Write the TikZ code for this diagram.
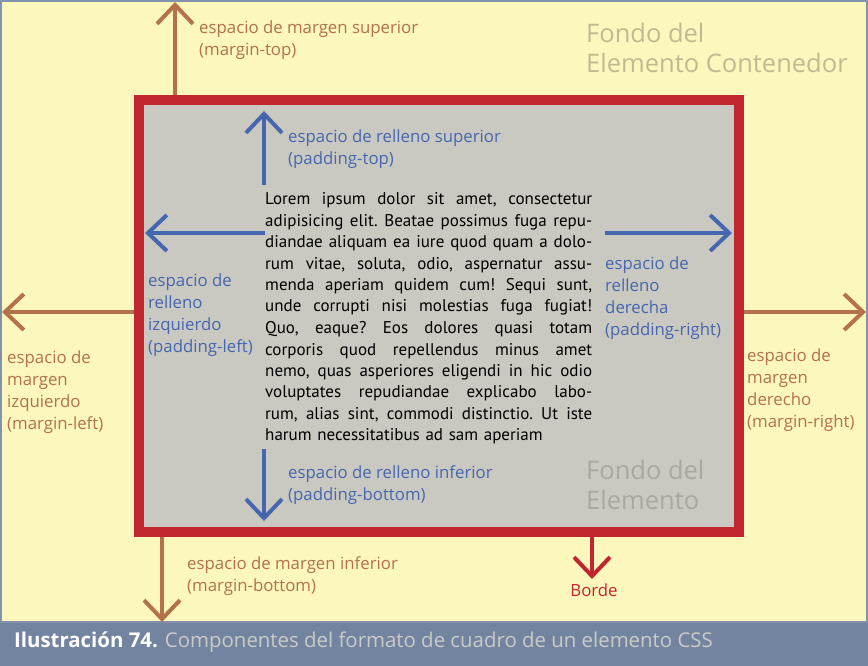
\documentclass[tikz,border=0pt]{standalone}
\usepackage{fontspec}
\setmainfont{PT Sans}
\newfontfamily\museo{Open Sans}
\usetikzlibrary{arrows.meta,positioning}

\definecolor{amarillo}{HTML}{FCF7BC}
\definecolor{marco}{HTML}{8392AC}
\definecolor{gris}{HTML}{C9C9C1}
\definecolor{rojo}{HTML}{C1252E}
\definecolor{margen}{HTML}{B4714A}
\definecolor{relleno}{HTML}{4666B0}
\definecolor{fondoext}{HTML}{BFBB8F}
\definecolor{fondoint}{HTML}{A9A9A3}
\definecolor{barra}{HTML}{7384A0}
\definecolor{leyendagris}{HTML}{C9CBC6}

\newcommand\renglon[1]{\noindent\hbox to 327pt{\spaceskip=0.22em plus 1fil\relax #1}\par}

\begin{document}
\begin{tikzpicture}[x=1pt, y=-1pt,
  marginarrow/.style={draw=margen, line width=4pt, -{Straight Barb[length=19pt, width=36pt]}},
  paddingarrow/.style={draw=relleno, line width=4pt, -{Straight Barb[length=19pt, width=36pt]}},
  borderarrow/.style={draw=rojo, line width=4pt, -{Straight Barb[length=19pt, width=36pt]}},
  etiqueta/.style={anchor=base west, inner sep=0pt, align=left, font=\museo\fontsize{16.8}{22}\selectfont},
  fondo/.style={anchor=base west, inner sep=0pt, align=left, font=\museo\fontsize{25.5}{30}\selectfont}]

  \useasboundingbox (0,0) rectangle (868,666);
  \node[fill=amarillo, draw=marco, line width=1.5pt, minimum width=866pt, minimum height=621pt, anchor=north west, outer sep=0pt] (contenedor) at (1,1) {};
  \node[fill=barra, minimum width=868pt, minimum height=43pt, anchor=north west, inner sep=0pt] (barra) at (0,623) {};
  \node[fill=gris, draw=rojo, line width=10pt, minimum width=600pt, minimum height=432pt, anchor=north west, inner sep=0pt] (caja) at (134,95) {};

  % texto del elemento
  \node[anchor=base west, inner sep=0pt, text width=327pt, font=\frenchspacing\fontsize{17}{21.5}\selectfont] (lorem) at (265,204.5) {%
    \renglon{Lorem ipsum dolor sit amet, consectetur}
    \renglon{adipisicing elit. Beatae possimus fuga repu-}
    \renglon{diandae aliquam ea iure quod quam a dolo-}
    \renglon{rum vitae, soluta, odio, aspernatur assu-}
    \renglon{menda aperiam quidem cum! Sequi sunt,}
    \renglon{unde corrupti nisi molestias fuga fugiat!}
    \renglon{Quo, eaque? Eos dolores quasi totam}
    \renglon{corporis quod repellendus minus amet}
    \renglon{nemo, quas asperiores eligendi in hic odio}
    \renglon{voluptates repudiandae explicabo labo-}
    \renglon{rum, alias sint, commodi distinctio. Ut iste}
    \noindent harum necessitatibus ad sam aperiam};

  % extremos de las flechas
  \coordinate (mtop) at (175,2);
  \coordinate (mleft) at (2,312);
  \coordinate (mright) at (866,312);
  \coordinate (mbottom) at (162,622);
  \coordinate (ptop0) at (264,185);
  \coordinate (ptop) at (264,111);
  \coordinate (pleft0) at (265,233);
  \coordinate (pleft) at (145,233);
  \coordinate (pright0) at (605,233);
  \coordinate (pright) at (732,233);
  \coordinate (pbottom0) at (264,449);
  \coordinate (pbottom) at (264,521);
  \coordinate (borde) at (592,579);

  \draw[marginarrow] (caja.north -| mtop) -- (mtop);
  \draw[marginarrow] (caja.west |- mleft) -- (mleft);
  \draw[marginarrow] (caja.east |- mright) -- (mright);
  \draw[marginarrow] (caja.south -| mbottom) -- (mbottom);
  \draw[paddingarrow] (ptop0) -- (ptop);
  \draw[paddingarrow] (pleft0) -- (pleft);
  \draw[paddingarrow] (pright0) -- (pright);
  \draw[paddingarrow] (pbottom0) -- (pbottom);
  \draw[borderarrow] (caja.south -| borde) -- (borde);

  % etiquetas (base = ultima linea)
  \node[etiqueta, text=margen] (lmtop) at (199,56) {espacio de margen superior\\(margin-top)};
  \node[etiqueta, text=margen] (lmleft) at (7,429) {espacio de\\margen\\izquierdo\\(margin-left)};
  \node[etiqueta, text=margen] (lmright) at (747,427) {espacio de\\margen\\derecho\\(margin-right)};
  \node[etiqueta, text=margen] (lmbottom) at (187,591) {espacio de margen inferior\\(margin-bottom)};
  \node[etiqueta, text=relleno] (lptop) at (288,165) {espacio de relleno superior\\(padding-top)};
  \node[etiqueta, text=relleno] (lpleft) at (148,352) {espacio de\\relleno\\izquierdo\\(padding-left)};
  \node[etiqueta, text=relleno] (lpright) at (605,335) {espacio de\\relleno\\derecha\\(padding-right)};
  \node[etiqueta, text=relleno] (lpbottom) at (288,500) {espacio de relleno inferior\\(padding-bottom)};
  \node[etiqueta, text=rojo, anchor=base] (lborde) at (594,596) {Borde};

  \node[fondo, text=fondoext] (lcontenedor) at (586,73) {Fondo del\\Elemento Contenedor};
  \node[fondo, text=fondoint] (lelemento) at (586,509) {Fondo del\\Elemento};

  \node[anchor=base west, inner sep=0pt, font=\museo\fontsize{20.4}{22}\selectfont] (leyenda) at (14,647)
    {\textcolor{white}{\bfseries Ilustración 74.} \textcolor{leyendagris}{Componentes del formato de cuadro de un elemento CSS}};
\end{tikzpicture}
\end{document}
